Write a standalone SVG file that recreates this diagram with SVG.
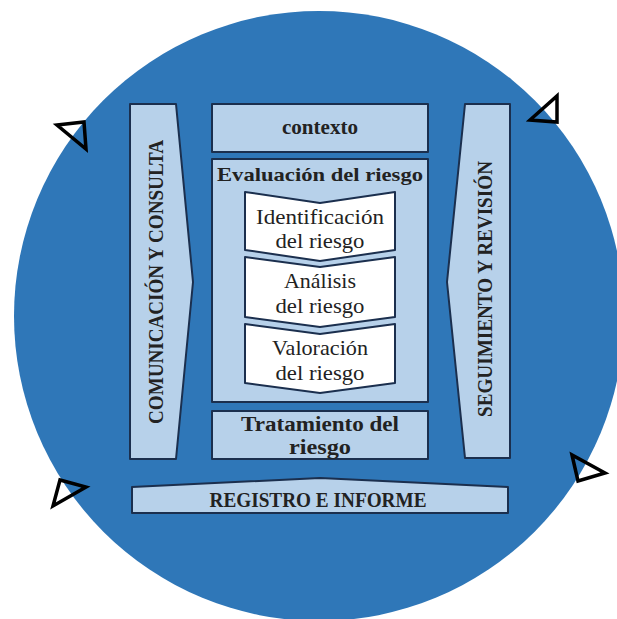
<svg xmlns="http://www.w3.org/2000/svg" width="617" height="619" viewBox="0 0 617 619">
<style>
.box{fill:#B7D1EA;stroke:#1B2F4E;stroke-width:2;stroke-linejoin:round}
.chev{fill:#FFFFFF;stroke:#1B2F4E;stroke-width:2;stroke-linejoin:round}
.tri{fill:none;stroke:#000000;stroke-width:3.5;stroke-linejoin:miter}
.b{font-family:"Liberation Serif","DejaVu Serif",serif;font-weight:bold;fill:#222222;text-anchor:middle}
.n{font-family:"Liberation Serif","DejaVu Serif",serif;font-weight:normal;fill:#222222;text-anchor:middle}
</style>
<rect width="617" height="619" fill="#FFFFFF"/>
<circle cx="319" cy="316" r="305" fill="#2F77B8"/>
<g id="comunicacion">
<polygon class="box" points="130,104 176,104 193,282 176,459 130,459"/>
<text class="b" font-size="22" transform="translate(163,282) rotate(-90)" textLength="284" lengthAdjust="spacingAndGlyphs">COMUNICACIÓN Y CONSULTA</text>
</g>
<g id="seguimiento">
<polygon class="box" points="465,104 510,104 510,458 465,458 447,282"/>
<text class="b" font-size="22" transform="translate(492,289) rotate(-90)" textLength="256" lengthAdjust="spacingAndGlyphs">SEGUIMIENTO Y REVISIÓN</text>
</g>
<g id="contexto">
<rect class="box" x="212" y="104" width="216" height="48"/>
<text class="b" x="320" y="134" font-size="21" textLength="76" lengthAdjust="spacingAndGlyphs">contexto</text>
</g>
<g id="evaluacion">
<rect class="box" x="212" y="159" width="216" height="243"/>
<text class="b" x="320" y="181" font-size="19" textLength="206" lengthAdjust="spacingAndGlyphs">Evaluación del riesgo</text>
</g>
<g id="identificacion">
<polygon class="chev" points="245,192 320,203 395,192 395,250 320,261 245,250"/>
<text class="n" x="320" y="224" font-size="22" textLength="128" lengthAdjust="spacingAndGlyphs">Identificación</text>
<text class="n" x="320" y="248" font-size="22" textLength="89" lengthAdjust="spacingAndGlyphs">del riesgo</text>
</g>
<g id="analisis">
<polygon class="chev" points="245,257 320,267 395,257 395,317 320,327 245,317"/>
<text class="n" x="320" y="288" font-size="22" textLength="72" lengthAdjust="spacingAndGlyphs">Análisis</text>
<text class="n" x="320" y="313" font-size="22" textLength="89" lengthAdjust="spacingAndGlyphs">del riesgo</text>
</g>
<g id="valoracion">
<polygon class="chev" points="245,324 320,334 395,324 395,383 320,393 245,383"/>
<text class="n" x="320" y="355" font-size="22" textLength="96" lengthAdjust="spacingAndGlyphs">Valoración</text>
<text class="n" x="320" y="380" font-size="22" textLength="89" lengthAdjust="spacingAndGlyphs">del riesgo</text>
</g>
<g id="tratamiento">
<rect class="box" x="212" y="411" width="216" height="48"/>
<text class="b" x="320" y="431" font-size="20" textLength="158" lengthAdjust="spacingAndGlyphs">Tratamiento del</text>
<text class="b" x="320" y="454" font-size="20" textLength="62" lengthAdjust="spacingAndGlyphs">riesgo</text>
</g>
<g id="registro">
<polygon class="box" points="132,487 320,478 508,487 508,513 132,513"/>
<text class="b" x="318" y="507" font-size="22" textLength="217" lengthAdjust="spacingAndGlyphs">REGISTRO E INFORME</text>
</g>
<g id="connectors">
<polygon class="tri" points="57,125 84,122 86,149"/>
<polygon class="tri" points="530,120 557,96 557,122"/>
<polygon class="tri" points="53,506 60,480 86,487"/>
<polygon class="tri" points="572,455 578,481 605,473"/>
</g>
</svg>
